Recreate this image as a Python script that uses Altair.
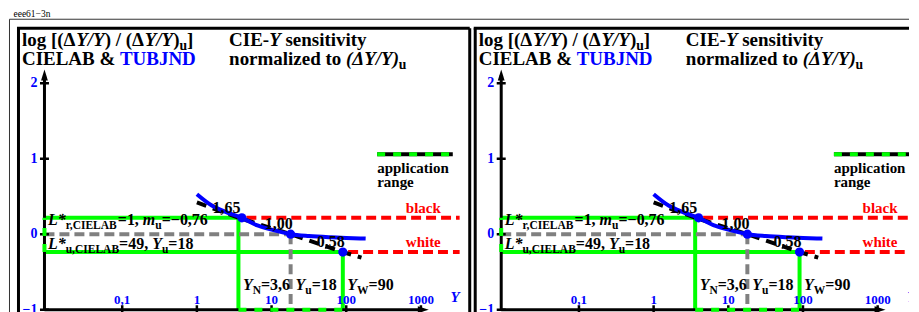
import altair as alt
import pandas as pd

FONT = "Liberation Serif"
BLUE, GREEN, RED, GRAY, BLACK = "#0000ff", "#00ff00", "#ff0000", "#808080", "#000000"

# ---------------- data ----------------
x_ticks = [0.1, 1, 10, 100, 1000]
x_tick_labels = ["0,1", "1", "10", "100", "1000"]
y_ticks = [2, 1, 0, -1]
y_tick_labels = ["2", "1", "0", "−1"]

# TUBJND curve (blue)
tub_Y = [1, 1.585, 2.512, 4.0, 6.31, 10, 18, 31.6, 63.1, 100, 182]
tub_v = [0.53, 0.38, 0.29, 0.217, 0.12, 0.06, 0.0, -0.025, -0.042, -0.05, -0.058]

# CIELAB curve (black dashed)
lab_Y = [1, 3.6, 18, 90, 160]
lab_v = [0.42, 0.2175, 0.0, -0.2366, -0.31]

# blue dots
dot_Y = [4.0, 18, 90]
dot_v = [0.2175, 0.0, -0.2366]

# ratio labels on the CIELAB curve
ratio_Y = [3.6, 18, 90]
ratio_v = [0.2175, 0.0, -0.2366]
ratio_labels = ["1,65", "1,00", "0,58"]

Y_N, Y_u, Y_W = 3.6, 18, 90
v_black, v_white = 0.2175, -0.2366
Y_axis0, v_axis0 = 0.0091, -1
v_axis_top = 2.11
Y_axis_right = 1077
Y_red_end = 3300
Y_red_start = [4.6, 106]
Y_legend = [259.6, 2672]
v_legend = 1.058
legend_text = ["application", "range"]
v_legend_text = [0.815, 0.626]
Y_side_label = 1845
side_labels = ["black", "white"]
v_Ylabels = -0.743
Y_axis_name = 2489
Y_title = [0.004547, 2.70]
v_title = [2.497, 2.246]

title_l1 = [("log [(Δ", "b", 0), ("Y/Y", "bi", 0), (") / (Δ", "b", 0), ("Y/Y", "bi", 0),
            (")", "b", 0), ("u", "b", 1), ("]", "b", 0)]
title_l2 = [("CIELAB & ", "b", 0), ("TUBJND", "b", 0, BLUE)]
title_r1 = [("CIE-", "b", 0), ("Y", "bi", 0), (" sensitivity", "b", 0)]
title_r2 = [("normalized to ", "b", 0), ("(ΔY/Y)", "bi", 0), ("u", "b", 1)]
lab_line1 = [("L*", "bi", 0), ("r,CIELAB", "b", 1), ("=1, ", "b", 0), ("m", "bi", 0),
             ("u", "b", 1), ("=−0,76", "b", 0)]
lab_line2 = [("L*", "bi", 0), ("u,CIELAB", "b", 1), ("=49, ", "b", 0), ("Y", "bi", 0),
             ("u", "b", 1), ("=18", "b", 0)]
yn_label = [("Y", "bi", 0), ("N", "b", 1), ("=3,6", "b", 0)]
yu_label = [("Y", "bi", 0), ("u", "b", 1), ("=18", "b", 0)]
yw_label = [("Y", "bi", 0), ("W", "b", 1), ("=90", "b", 0)]

# ---------------- scale geometry ----------------
PX_DEC = 74.8          # pixels per decade of Y
PX_UNIT = 75.6         # pixels per unit of log ratio
LOG_LEFT = -2.389      # log10 Y at left edge of the panel box
V_TOP = 2.729          # value at top edge of the panel box
GAP = 5.5
PW_L, PW_R, PH = 452, 434.5, 293
X_MIN = 10 ** LOG_LEFT
X_MAX_L = 10 ** (LOG_LEFT + PW_L / PX_DEC)
X_MAX_R = 10 ** (LOG_LEFT + PW_R / PX_DEC)
V_MAX = V_TOP
V_MIN = V_TOP - PH / PX_UNIT

# ---------------- text metrics (Times-like bold) ----------------
W_B = {' ': 250, '(': 333, ')': 333, '[': 333, ']': 333, '/': 278, ',': 250, '=': 570,
       '−': 570, '-': 333, '*': 500, '&': 833, 'Δ': 667,
       'A': 722, 'B': 667, 'C': 722, 'D': 722, 'E': 667, 'I': 389, 'J': 500, 'L': 667,
       'N': 722, 'T': 667, 'U': 722, 'W': 1000, 'Y': 722,
       'a': 500, 'b': 556, 'c': 444, 'd': 556, 'e': 444, 'g': 500, 'i': 278, 'k': 556,
       'l': 278, 'm': 833, 'n': 556, 'o': 500, 'p': 556, 'r': 444, 's': 389, 't': 333,
       'u': 556, 'v': 500, 'w': 722, 'y': 500, 'z': 444}
W_BI = {'Y': 611, '/': 278, 'L': 611, '*': 500, 'm': 778, '(': 333, ')': 333, 'Δ': 612, 'u': 556}


def twidth(s, style, size):
    tbl = W_BI if style == "bi" else W_B
    return sum(tbl.get(ch, W_B.get(ch, 500)) for ch in s) * size / 1000.0


def rich(runs, Y, v, size, dx0=0.0, dy0=0.0, sub_dy=4.0, sub_scale=0.72):
    """Lay out runs of text one after the other, starting at data point (Y, v)."""
    rows = []
    x = dx0
    for run in runs:
        text, style, sub = run[:3]
        color = run[3] if len(run) > 3 else BLACK
        s = size * sub_scale if sub else size
        lead = len(text) - len(text.lstrip(" "))
        shown = text.strip(" ")
        dx = x + twidth(" " * lead, style, s)
        dy = dy0 + (sub_dy if sub else 0.0)
        rows.append(dict(Y=Y * 10 ** (dx / PX_DEC), v=v - dy / PX_UNIT, size=s,
                         color=color, text=shown, style=style))
        x += twidth(text, style, s)
    return rows


text_rows = []
text_rows += rich(title_l1, Y_title[0], v_title[0], 19, sub_dy=4)
text_rows += rich(title_l2, Y_title[0], v_title[1], 19)
text_rows += rich(title_r1, Y_title[1], v_title[0], 19)
text_rows += rich(title_r2, Y_title[1], v_title[1], 19, sub_dy=4)
text_rows += rich(lab_line1, Y_axis0, v_black, 16, dx0=3.5, dy0=7.5, sub_dy=3.5)
text_rows += rich(lab_line2, Y_axis0, v_white, 16, dx0=3.5, dy0=-2.7, sub_dy=3.5)
text_rows += rich(yn_label, Y_N, v_Ylabels, 16, dx0=4.5, sub_dy=4)
text_rows += rich(yu_label, Y_u, v_Ylabels, 16, dx0=5.0, sub_dy=4)
text_rows += rich(yw_label, Y_W, v_Ylabels, 16, dx0=4.5, sub_dy=4)
text_df = pd.DataFrame(text_rows)


def panel(decor, pw, x_max):
    xs = alt.Scale(type="log", domain=[X_MIN, x_max], nice=False)
    ys = alt.Scale(domain=[V_MIN, V_MAX], nice=False, zero=False)

    def X(f):
        return alt.X(f, type="quantitative", scale=xs, axis=None)

    def V(f):
        return alt.Y(f, type="quantitative", scale=ys, axis=None)

    def hrule(rows, **mk):
        df = pd.DataFrame(rows, columns=["Y1", "Y2", "v"])
        return alt.Chart(df).mark_rule(clip=True, **mk).encode(x=X("Y1"), x2=alt.X2("Y2"), y=V("v"))

    def vrule(rows, **mk):
        df = pd.DataFrame(rows, columns=["Y", "v1", "v2"])
        return alt.Chart(df).mark_rule(clip=True, **mk).encode(x=X("Y"), y=V("v1"), y2=alt.Y2("v2"))

    layers = []
    # green application range lines
    layers.append(hrule([(Y_axis0, Y_N, v_black), (Y_axis0, Y_W, v_white)], color=GREEN, strokeWidth=4))
    layers.append(vrule([(Y_N, v_black, v_axis0), (Y_W, v_white, v_axis0)], color=GREEN, strokeWidth=4))
    # gray reference
    layers.append(hrule([(Y_axis0, Y_u, 0.0)], color=GRAY, strokeWidth=4, strokeDash=[10, 5]))
    layers.append(vrule([(Y_u, 0.0, v_axis0)], color=GRAY, strokeWidth=4, strokeDash=[10, 5]))
    # red black/white levels
    layers.append(hrule([(Y_red_start[0], Y_red_end, v_black), (Y_red_start[1], Y_red_end, v_white)],
                        color=RED, strokeWidth=4, strokeDash=[10, 5]))
    # axes
    layers.append(vrule([(Y_axis0, v_axis0, v_axis_top)], color=BLACK, strokeWidth=3))
    layers.append(hrule([(Y_axis0, Y_axis_right, v_axis0)], color=BLACK, strokeWidth=3))
    layers.append(alt.Chart(pd.DataFrame({"Y": x_ticks, "v": [v_axis0] * len(x_ticks)}))
                  .mark_tick(orient="vertical", size=9, thickness=2.5, color=BLACK, opacity=1, clip=True)
                  .encode(x=X("Y"), y=V("v")))
    layers.append(alt.Chart(pd.DataFrame({"Y": [Y_axis0] * len(y_ticks), "v": y_ticks}))
                  .mark_tick(orient="horizontal", size=9, thickness=2.5, color=BLACK, opacity=1, clip=True)
                  .encode(x=X("Y"), y=V("v")))
    layers.append(alt.Chart(pd.DataFrame({"Y": [Y_axis0], "v": [v_axis_top]}))
                  .mark_point(shape="M -0.62 1 L 0 -1 L 0.62 1 Z", filled=True, size=121,
                              color=BLACK, opacity=1, strokeWidth=0, clip=True)
                  .encode(x=X("Y"), y=V("v")))
    layers.append(alt.Chart(pd.DataFrame({"Y": [Y_axis_right], "v": [v_axis0]}))
                  .mark_point(shape="M -1 -0.62 L 1 0 L -1 0.62 Z", filled=True, size=121,
                              color=BLACK, opacity=1, strokeWidth=0, clip=True)
                  .encode(x=X("Y"), y=V("v")))
    # application range marked on axes
    layers.append(hrule([(Y_N, Y_W, v_axis0)], color=GREEN, strokeWidth=4, strokeDash=[8, 8]))
    layers.append(vrule([(Y_axis0, v_white, v_black)], color=GREEN, strokeWidth=4, strokeDash=[8, 8]))
    # legend
    layers.append(hrule([(Y_legend[0], Y_legend[1], v_legend)], color=BLACK, strokeWidth=4))
    layers.append(hrule([(Y_legend[0], Y_legend[1], v_legend)], color=GREEN, strokeWidth=4, strokeDash=[8, 8]))
    layers.append(alt.Chart(pd.DataFrame({"Y": [Y_legend[0]] * 2, "v": v_legend_text, "t": legend_text}))
                  .mark_text(font=FONT, fontWeight="bold", fontSize=15, align="left",
                             baseline="alphabetic", color=BLACK, clip=True)
                  .encode(x=X("Y"), y=V("v"), text="t:N"))
    # curves
    layers.append(alt.Chart(pd.DataFrame({"Y": lab_Y, "v": lab_v}))
                  .mark_line(color=BLACK, strokeWidth=4, strokeDash=[10, 7], clip=True)
                  .encode(x=X("Y"), y=V("v")))
    layers.append(alt.Chart(pd.DataFrame({"Y": tub_Y, "v": tub_v}))
                  .mark_line(color=BLUE, strokeWidth=4, interpolate="monotone", clip=True)
                  .encode(x=X("Y"), y=V("v")))
    layers.append(alt.Chart(pd.DataFrame({"Y": dot_Y, "v": dot_v}))
                  .mark_circle(color=BLUE, size=85, opacity=1, clip=True)
                  .encode(x=X("Y"), y=V("v")))
    # ratio labels
    layers.append(alt.Chart(pd.DataFrame({"Y": ratio_Y, "v": ratio_v, "t": ratio_labels}))
                  .mark_text(font=FONT, fontWeight="bold", fontSize=16, align="center",
                             baseline="alphabetic", dx=-12, dy=-5, color=BLACK, clip=True)
                  .encode(x=X("Y"), y=V("v"), text="t:N"))
    # black / white labels
    layers.append(alt.Chart(pd.DataFrame({"Y": [Y_side_label] * 2, "v": [v_black, v_white], "t": side_labels}))
                  .mark_text(font=FONT, fontWeight="bold", fontSize=15, align="right",
                             baseline="alphabetic", dy=-5, color=RED, clip=True)
                  .encode(x=X("Y"), y=V("v"), text="t:N"))
    # tick labels
    layers.append(alt.Chart(pd.DataFrame({"Y": x_ticks, "v": [v_axis0] * len(x_ticks), "t": x_tick_labels}))
                  .mark_text(font=FONT, fontWeight="bold", fontSize=13, align="center",
                             baseline="alphabetic", dy=-6, color=BLUE, clip=True)
                  .encode(x=X("Y"), y=V("v"), text="t:N"))
    layers.append(alt.Chart(pd.DataFrame({"Y": [Y_axis0] * len(y_ticks), "v": y_ticks, "t": y_tick_labels}))
                  .mark_text(font=FONT, fontWeight="bold", fontSize=14, align="right",
                             baseline="middle", dx=-7, color=BLUE, clip=True)
                  .encode(x=X("Y"), y=V("v"), text="t:N"))
    layers.append(alt.Chart(pd.DataFrame({"Y": [Y_axis_name], "v": [v_axis0], "t": ["Y"]}))
                  .mark_text(font=FONT, fontWeight="bold", fontStyle="italic", fontSize=15,
                             align="left", baseline="alphabetic", dy=-8, color=BLUE, clip=True)
                  .encode(x=X("Y"), y=V("v"), text="t:N"))
    # rich texts
    for style in ["b", "bi"]:
        sub = text_df[text_df["style"] == style]
        layers.append(alt.Chart(sub)
                      .mark_text(font=FONT, fontWeight="bold",
                                 fontStyle="italic" if style == "bi" else "normal",
                                 align="left", baseline="alphabetic", clip=True)
                      .encode(x=X("Y"), y=V("v"),
                              size=alt.Size("size:Q", scale=None),
                              color=alt.Color("color:N", scale=None),
                              text="text:N"))
    # panel box
    one = pd.DataFrame({"a": [0]})
    layers.append(alt.Chart(one).mark_rule(color=BLACK, strokeWidth=3)
                  .encode(x=alt.value(0), y=alt.value(0), y2=alt.value(PH)))
    layers.append(alt.Chart(one).mark_rule(color=BLACK, strokeWidth=3)
                  .encode(x=alt.value(-1.5), x2=alt.value(pw), y=alt.value(0)))
    if decor:
        layers.append(alt.Chart(one).mark_rule(color=BLACK, strokeWidth=3)
                      .encode(x=alt.value(pw), y=alt.value(0), y2=alt.value(PH)))
        layers.append(alt.Chart(one).mark_rule(color="#333333", strokeWidth=1)
                      .encode(x=alt.value(-9), x2=alt.value(pw + GAP + PW_R), y=alt.value(-9)))
        layers.append(alt.Chart(one).mark_rule(color="#333333", strokeWidth=1)
                      .encode(x=alt.value(-9), y=alt.value(-9), y2=alt.value(PH)))
        layers.append(alt.Chart(one).mark_rule(color="#ffffff", strokeWidth=1, strokeOpacity=0)
                      .encode(x=alt.value(-10), y=alt.value(-18.5), y2=alt.value(-18)))
        layers.append(alt.Chart(one).mark_text(font=FONT, fontSize=9.5, align="left",
                                               baseline="alphabetic", color=BLACK, text="eee61−3n")
                      .encode(x=alt.value(-5), y=alt.value(-11.5)))
    return alt.layer(*layers).properties(width=pw, height=PH)


chart = alt.hconcat(panel(True, PW_L, X_MAX_L), panel(False, PW_R, X_MAX_R),
                    spacing=GAP, bounds="flush").properties(
    padding={"left": 0.5, "top": 0, "right": 0, "bottom": 0},
    background="white",
).configure_view(strokeOpacity=0)

chart.save("out.html", embed_options={"renderer": "svg", "actions": False})
